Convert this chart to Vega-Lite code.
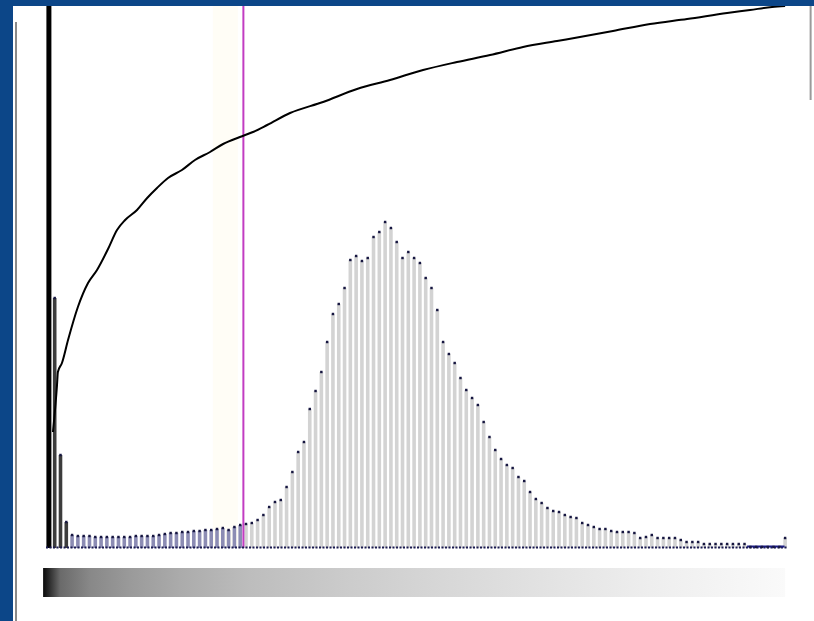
{
  "$schema": "https://vega.github.io/schema/vega-lite/v6.json",
  "autosize": {"type": "fit", "contains": "padding"},
  "width": 814,
  "height": 621,
  "padding": {"left": 13, "top": 6, "right": 0, "bottom": 0},
  "background": "#0c4688",
  "config": {"view": {"stroke": null, "fill": "white"}, "axis": {"disable": true}, "scale": {"continuousPadding": 0}},
  "datasets": {
    "one": [{}],
    "hist": [
      {"level":1,"count":600},{"level":3,"count":250},{"level":5,"count":93},{"level":7,"count":26},
      {"level":9,"count":13},{"level":11,"count":12},{"level":13,"count":12},{"level":15,"count":12},
      {"level":17,"count":11},{"level":19,"count":11},{"level":21,"count":11},{"level":23,"count":11},
      {"level":25,"count":11},{"level":27,"count":11},{"level":29,"count":11},{"level":31,"count":12},
      {"level":33,"count":12},{"level":35,"count":12},{"level":37,"count":12},{"level":39,"count":13},
      {"level":41,"count":14},{"level":43,"count":15},{"level":45,"count":15},{"level":47,"count":16},
      {"level":49,"count":16},{"level":51,"count":17},{"level":53,"count":17},{"level":55,"count":18},
      {"level":57,"count":18},{"level":59,"count":19},{"level":61,"count":20},{"level":63,"count":18},
      {"level":65,"count":21},{"level":67,"count":23},{"level":69,"count":24},{"level":71,"count":25},
      {"level":73,"count":28},{"level":75,"count":33},{"level":77,"count":41},{"level":79,"count":46},
      {"level":81,"count":48},{"level":83,"count":61},{"level":85,"count":76},{"level":87,"count":96},
      {"level":89,"count":106},{"level":91,"count":139},{"level":93,"count":157},{"level":95,"count":176},
      {"level":97,"count":206},{"level":99,"count":234},{"level":101,"count":244},{"level":103,"count":260},
      {"level":105,"count":288},{"level":107,"count":292},{"level":109,"count":287},{"level":111,"count":290},
      {"level":113,"count":311},{"level":115,"count":316},{"level":117,"count":326},{"level":119,"count":320},
      {"level":121,"count":306},{"level":123,"count":290},{"level":125,"count":296},{"level":127,"count":290},
      {"level":129,"count":285},{"level":131,"count":270},{"level":133,"count":260},{"level":135,"count":238},
      {"level":137,"count":206},{"level":139,"count":194},{"level":141,"count":185},{"level":143,"count":170},
      {"level":145,"count":158},{"level":147,"count":150},{"level":149,"count":143},{"level":151,"count":126},
      {"level":153,"count":111},{"level":155,"count":98},{"level":157,"count":89},{"level":159,"count":83},
      {"level":161,"count":80},{"level":163,"count":71},{"level":165,"count":67},{"level":167,"count":56},
      {"level":169,"count":49},{"level":171,"count":45},{"level":173,"count":40},{"level":175,"count":37},
      {"level":177,"count":36},{"level":179,"count":33},{"level":181,"count":31},{"level":183,"count":30},
      {"level":185,"count":25},{"level":187,"count":23},{"level":189,"count":21},{"level":191,"count":19},
      {"level":193,"count":19},{"level":195,"count":17},{"level":197,"count":16},{"level":199,"count":16},
      {"level":201,"count":16},{"level":203,"count":15},{"level":205,"count":10},{"level":207,"count":11},
      {"level":209,"count":13},{"level":211,"count":10},{"level":213,"count":10},{"level":215,"count":10},
      {"level":217,"count":10},{"level":219,"count":8},{"level":221,"count":6},{"level":223,"count":6},
      {"level":225,"count":6},{"level":227,"count":4},{"level":229,"count":4},{"level":231,"count":4},
      {"level":233,"count":4},{"level":235,"count":4},{"level":237,"count":4},{"level":239,"count":4},
      {"level":241,"count":4},{"level":243,"count":1},{"level":245,"count":1},{"level":247,"count":1},
      {"level":249,"count":1},{"level":251,"count":1},{"level":253,"count":1},{"level":255,"count":10}
    ],
    "curve": [
      {"level":2.4,"cum":116},{"level":3.8,"cum":163},{"level":4.1,"cum":176},{"level":5.5,"cum":185},
      {"level":7.6,"cum":208},{"level":11.0,"cum":241},{"level":14.5,"cum":265},{"level":17.6,"cum":278},
      {"level":21.4,"cum":299},{"level":24.5,"cum":318},{"level":27.3,"cum":328},{"level":31.4,"cum":338},
      {"level":34.9,"cum":350},{"level":38.3,"cum":360},{"level":42.1,"cum":370},{"level":46.9,"cum":378},
      {"level":51.4,"cum":388},{"level":56.6,"cum":396},{"level":61.1,"cum":404},{"level":66.9,"cum":411},
      {"level":71.4,"cum":416},{"level":76.3,"cum":423},{"level":84.2,"cum":435},{"level":95.6,"cum":446},
      {"level":107.3,"cum":459},{"level":118.7,"cum":468},{"level":130.1,"cum":478},{"level":141.8,"cum":486},
      {"level":153.2,"cum":493},{"level":164.6,"cum":501},{"level":176.3,"cum":507},{"level":184.2,"cum":511},
      {"level":195.6,"cum":517},{"level":208.4,"cum":524},{"level":221.2,"cum":529},{"level":235.0,"cum":535},
      {"level":242.9,"cum":538},{"level":250.5,"cum":541},{"level":255.0,"cum":542}
    ]
  },
  "layer": [
    {
      "data": {"name": "one"},
      "mark": {"type": "rect", "fill": "#fffcee", "opacity": 0.5, "clip": true},
      "encoding": {
        "x": {"datum": 57.6, "type": "quantitative", "scale": {"domain": [-11.386, 264.97], "nice": false, "zero": false}},
        "x2": {"datum": 66.2},
        "y": {"datum": 0, "type": "quantitative", "scale": {"domain": [-73, 542], "nice": false, "zero": false, "clamp": true}},
        "y2": {"datum": 542}
      }
    },
    {
      "data": {"name": "hist"},
      "transform": [{"filter": "datum.level > 1"}],
      "mark": {"type": "bar", "width": 3.6, "clip": true},
      "encoding": {
        "x": {"field": "level", "type": "quantitative", "scale": {"domain": [-11.386, 264.97], "nice": false, "zero": false}},
        "y": {"field": "count", "type": "quantitative", "scale": {"domain": [-73, 542], "nice": false, "zero": false, "clamp": true}},
        "y2": {"datum": 0},
        "color": {"condition": [
          {"test": "datum.level <= 7", "value": "#3c3c3c"},
          {"test": "datum.level <= 67", "value": "#8c8cb4"}
        ], "value": "#d3d3d3"}
      }
    },
    {
      "data": {"name": "hist"},
      "transform": [{"filter": "datum.level == 1"}],
      "mark": {"type": "bar", "width": 5, "color": "black", "clip": true},
      "encoding": {
        "x": {"field": "level", "type": "quantitative", "scale": {"domain": [-11.386, 264.97], "nice": false, "zero": false}},
        "y": {"field": "count", "type": "quantitative", "scale": {"domain": [-73, 542], "nice": false, "zero": false, "clamp": true}},
        "y2": {"datum": 0}
      }
    },
    {
      "data": {"name": "one"},
      "mark": {"type": "rule", "stroke": "#c23cc2", "strokeWidth": 2, "clip": true},
      "encoding": {
        "x": {"datum": 68.1, "type": "quantitative", "scale": {"domain": [-11.386, 264.97], "nice": false, "zero": false}},
        "y": {"datum": 0, "type": "quantitative", "scale": {"domain": [-73, 542], "nice": false, "zero": false, "clamp": true}},
        "y2": {"datum": 542}
      }
    },
    {
      "data": {"name": "one"},
      "mark": {"type": "rule", "stroke": "#1a1a50", "strokeWidth": 2, "strokeDash": [2, 1.5], "clip": true},
      "encoding": {
        "x": {"datum": 0, "type": "quantitative", "scale": {"domain": [-11.386, 264.97], "nice": false, "zero": false}},
        "x2": {"datum": 256},
        "y": {"datum": 0.5, "type": "quantitative", "scale": {"domain": [-73, 542], "nice": false, "zero": false, "clamp": true}}
      }
    },
    {
      "data": {"name": "one"},
      "mark": {"type": "rule", "stroke": "#1a1a80", "strokeWidth": 2, "clip": true},
      "encoding": {
        "x": {"datum": 241.9, "type": "quantitative", "scale": {"domain": [-11.386, 264.97], "nice": false, "zero": false}},
        "x2": {"datum": 254.8},
        "y": {"datum": 1.5, "type": "quantitative", "scale": {"domain": [-73, 542], "nice": false, "zero": false, "clamp": true}}
      }
    },
    {
      "data": {"name": "hist"},
      "transform": [{"filter": "datum.level > 1"}],
      "mark": {"type": "point", "shape": "square", "filled": true, "size": 6, "color": "#161640", "opacity": 1, "clip": true},
      "encoding": {
        "x": {"field": "level", "type": "quantitative", "scale": {"domain": [-11.386, 264.97], "nice": false, "zero": false}},
        "y": {"field": "count", "type": "quantitative", "scale": {"domain": [-73, 542], "nice": false, "zero": false, "clamp": true}}
      }
    },
    {
      "data": {"name": "curve"},
      "mark": {"type": "line", "color": "black", "strokeWidth": 2, "interpolate": "monotone", "clip": true},
      "encoding": {
        "x": {"field": "level", "type": "quantitative", "scale": {"domain": [-11.386, 264.97], "nice": false, "zero": false}},
        "y": {"field": "cum", "type": "quantitative", "scale": {"domain": [-73, 542], "nice": false, "zero": false, "clamp": true}}
      }
    },
    {
      "data": {"name": "one"},
      "mark": {"type": "rect", "clip": true, "fill": {"gradient": "linear", "x1": 0, "y1": 0, "x2": 1, "y2": 0, "stops": [
        {"offset": 0, "color": "#0a0a0a"},
        {"offset": 0.01, "color": "#333333"},
        {"offset": 0.023, "color": "#6a6a6a"},
        {"offset": 0.063, "color": "#888888"},
        {"offset": 0.117, "color": "#9a9a9a"},
        {"offset": 0.185, "color": "#ababab"},
        {"offset": 0.279, "color": "#bdbdbd"},
        {"offset": 0.414, "color": "#cccccc"},
        {"offset": 0.549, "color": "#d8d8d8"},
        {"offset": 0.683, "color": "#e3e3e3"},
        {"offset": 0.818, "color": "#eeeeee"},
        {"offset": 1, "color": "#fafafa"}
      ]}},
      "encoding": {
        "x": {"datum": -1, "type": "quantitative", "scale": {"domain": [-11.386, 264.97], "nice": false, "zero": false}},
        "x2": {"datum": 255},
        "y": {"datum": -20, "type": "quantitative", "scale": {"domain": [-73, 542], "nice": false, "zero": false, "clamp": true}},
        "y2": {"datum": -49}
      }
    },
    {
      "data": {"name": "one"},
      "mark": {"type": "rule", "stroke": "#8a8a8a", "strokeWidth": 2, "clip": true},
      "encoding": {
        "x": {"datum": -10.35, "type": "quantitative", "scale": {"domain": [-11.386, 264.97], "nice": false, "zero": false}},
        "y": {"datum": 526, "type": "quantitative", "scale": {"domain": [-73, 542], "nice": false, "zero": false, "clamp": true}},
        "y2": {"datum": -73}
      }
    },
    {
      "data": {"name": "one"},
      "mark": {"type": "rule", "stroke": "#9a9a9a", "strokeWidth": 2, "clip": true},
      "encoding": {
        "x": {"datum": 263.8, "type": "quantitative", "scale": {"domain": [-11.386, 264.97], "nice": false, "zero": false}},
        "y": {"datum": 542, "type": "quantitative", "scale": {"domain": [-73, 542], "nice": false, "zero": false, "clamp": true}},
        "y2": {"datum": 448}
      }
    }
  ]
}
